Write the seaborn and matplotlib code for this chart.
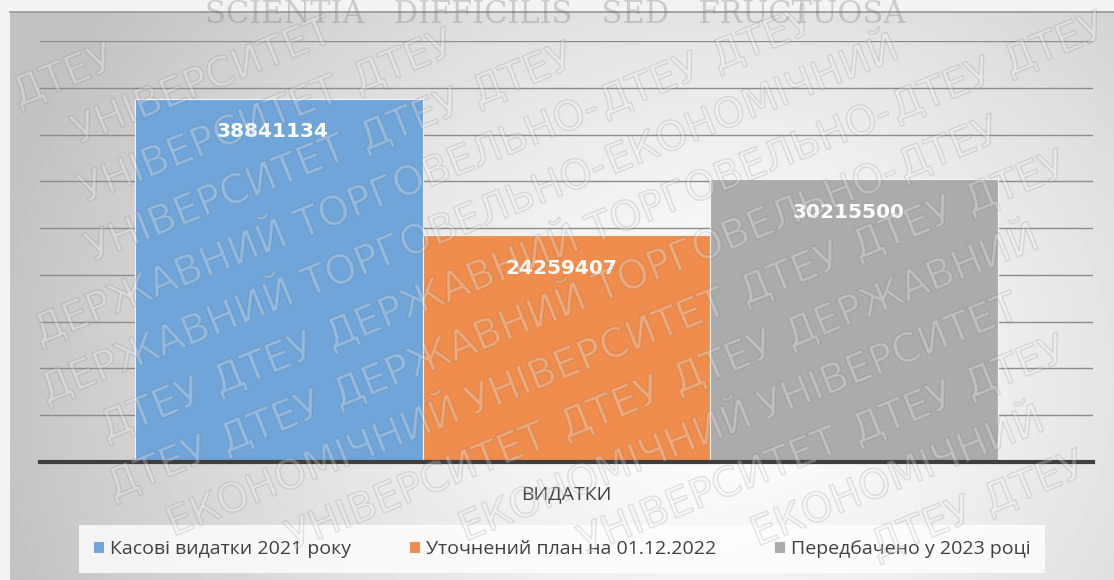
import numpy as np
import pandas as pd
import matplotlib
matplotlib.use("Agg")
import matplotlib.pyplot as plt
import matplotlib.patheffects as pe
from matplotlib.textpath import TextPath
from matplotlib.font_manager import FontProperties
import seaborn as sns

# chart data
category = ["ВИДАТКИ"]
series = ["Касові видатки 2021 року", "Уточнений план на 01.12.2022", "Передбачено у 2023 році"]
values = [38841134, 24259407, 30215500]
colors = ["#6fa5d9", "#f08d4c", "#ababab"]
y_ticks = [0, 5e6, 10e6, 15e6, 20e6, 25e6, 30e6, 35e6, 40e6, 45e6]

# page watermark text
wm_words = ["ДТЕУ", "ДЕРЖАВНИЙ", "ТОРГОВЕЛЬНО-", "ЕКОНОМІЧНИЙ", "УНІВЕРСИТЕТ", "ДТЕУ"]
motto = "SCIENTIA   DIFFICILIS   SED   FRUCTUOSA"

df = pd.DataFrame({"cat": category * len(series), "series": series, "value": values})

sns.set_theme(style="white")
plt.rcParams["font.family"] = ["Open Sans", "DejaVu Sans"]

W, H = 1114, 580
fig = plt.figure(figsize=(W / 100, H / 100), dpi=100)
fig.patch.set_facecolor("#f3f3f3")

# gradient background of the chart area
bg = fig.add_axes([10 / W, 0, 1 - 10 / W, (H - 12) / H], zorder=-2)
yy, xx = np.mgrid[12:H, 10:W]
d = np.sqrt((xx - 720) ** 2 + ((yy - 380) / 0.9) ** 2)
shade = 1 - 0.24 * np.clip(d / 740, 0, 1) ** 1.3
bg.imshow(shade, cmap="gray", vmin=0, vmax=1, aspect="auto", interpolation="bilinear")
bg.set_xticks([])
bg.set_yticks([])
for s in ["left", "right", "bottom"]:
    bg.spines[s].set_visible(False)
bg.spines["top"].set_color("#9a9a9a")

# the bars
ax = fig.add_axes([40 / W, 118 / H, 1053 / W, 421 / H])
ax.set_facecolor("none")
sns.barplot(data=df, x="cat", y="value", hue="series", palette=colors, width=0.82,
            saturation=1, edgecolor="#f4f4f4", linewidth=0.8, ax=ax, zorder=2)
ax.set_xlim(-0.5, 0.5)
ax.set_ylim(0, 45e6)
ax.set_yticks(y_ticks)
ax.set_yticklabels([])
ax.yaxis.grid(True, color="#8c8c8c", lw=1)
ax.set_axisbelow(True)
ax.set_xlabel("")
ax.set_ylabel("")
ax.tick_params(axis="both", length=0)
ax.tick_params(axis="x", pad=17, labelsize=14, labelcolor="#404040")
for s in ["left", "right", "top"]:
    ax.spines[s].set_visible(False)
ax.spines["bottom"].set_color("#3f3f3f")
ax.spines["bottom"].set_linewidth(3)
ax.spines["bottom"].set_zorder(3)

for cont, v in zip(ax.containers, values):
    bar = cont[0]
    ax.annotate(f"{v}", (bar.get_x() + bar.get_width() / 2, bar.get_height()),
                xytext=(-4, -24), textcoords="offset points", ha="center", va="center",
                color="white", fontsize=14.5, fontweight="bold", family="DejaVu Sans", zorder=4)

handles, labels = ax.get_legend_handles_labels()
leg = ax.legend(handles, labels, loc="center", bbox_to_anchor=(562 / W, 1 - 549 / H),
                bbox_transform=fig.transFigure, ncol=3, fontsize=14, handlelength=0.55,
                handleheight=0.55, handletextpad=0.3, columnspacing=3.0, borderpad=0.75,
                fancybox=False, frameon=True)
leg.get_frame().set_facecolor((1, 1, 1, 0.3))
leg.get_frame().set_edgecolor("none")
for t in leg.get_texts():
    t.set_color("#404040")

# watermark: diagonal rows of words, each kept fully inside the picture
wm_size = 29
wm_px = wm_size * 100 / 72
prop = FontProperties(family="DejaVu Sans", size=wm_size)
ang = np.deg2rad(22)
u = np.array([np.cos(ang), np.sin(ang)])
n = np.array([-np.sin(ang), np.cos(ang)])
effects = [pe.Stroke(linewidth=1.1, foreground="#5a5a5a", alpha=0.16), pe.Normal()]


def word_box(p, w):
    return [p + a * u + b * n for a in (0, w) for b in (-0.2 * wm_px, 0.78 * wm_px)]


def fits(p, w):
    return all(1 < c[0] < W - 1 and 1 < c[1] < H - 1 for c in word_box(p, w))


for i in range(-14, 16):
    origin = np.array([-200.0, 200.0]) + i * 57 * n
    t = -900.0 + (i * 137) % 300
    k = i % len(wm_words)
    while t < 2200:
        word = wm_words[k % len(wm_words)]
        w = TextPath((0, 0), word, size=wm_px, prop=prop).get_extents().width
        p = origin + t * u
        if not fits(p, w):
            word = "ДТЕУ"
            w = TextPath((0, 0), word, size=wm_px, prop=prop).get_extents().width
        if fits(p, w):
            fig.text(p[0] / W, p[1] / H, word, rotation=22, rotation_mode="anchor",
                     ha="left", va="baseline", fontsize=wm_size, family="DejaVu Sans",
                     color=(1, 1, 1, 0.1), path_effects=effects, zorder=10)
        gap = 0.12 if word.endswith("-") else 0.45
        t += w + gap * wm_px
        k += 1

fig.text(555 / W, 1 - 23 / H, motto, ha="center", va="baseline", fontsize=22,
         family="DejaVu Serif", color=(0.45, 0.45, 0.45, 0.3), zorder=10)

fig.savefig("out.png", dpi=100, facecolor=fig.get_facecolor())
